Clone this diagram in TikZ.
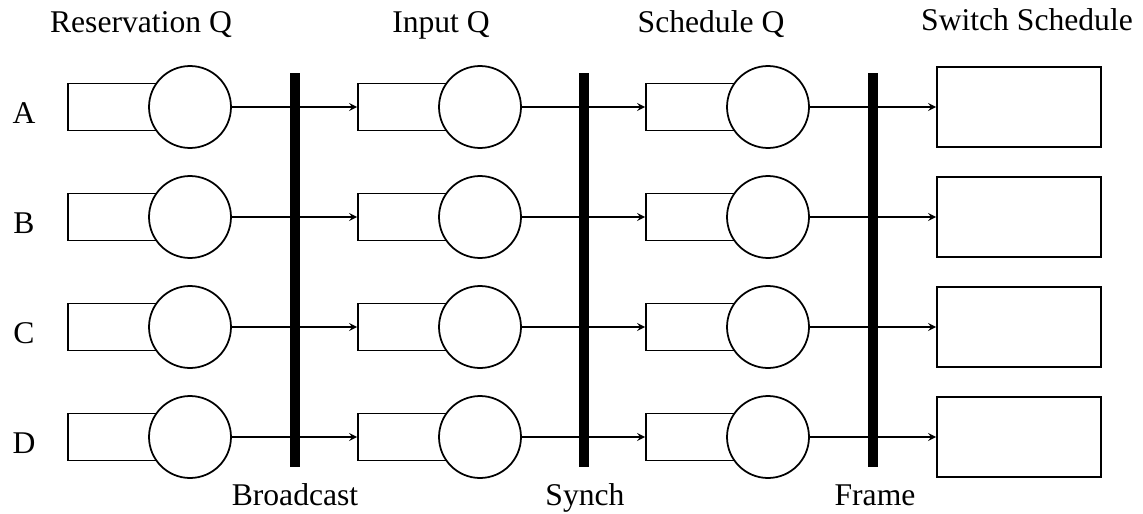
\documentclass[tikz,border=0pt]{standalone}
\usepackage{fontspec}
\setmainfont{Liberation Serif}
\usetikzlibrary{arrows}
\tikzset{
	queue/.style={draw, rectangle, minimum width=2.24cm, minimum height=0.94cm, inner sep=0pt},
	server/.style={draw, circle, fill=white, minimum size=1.64cm, inner sep=0pt},
	sched/.style={draw, rectangle, minimum width=3.28cm, minimum height=1.6cm, inner sep=0pt},
	bar/.style={fill=black, rectangle, minimum width=0.2cm, minimum height=7.9cm, inner sep=0pt},
	lbl/.style={anchor=base, font=\fontsize{18}{21}\selectfont}
}

\begin{document}
\begin{tikzpicture}[x=0.02cm, y=-0.02cm, line width=1pt]
\useasboundingbox (0,0) rectangle (1143,514);

\node[lbl] (tRes) at (141,32) {Reservation Q};
\node[lbl] (tIn) at (441,32) {Input Q};
\node[lbl] (tSch) at (711,32) {Schedule Q};
\node[lbl] (tSw) at (1027,30) {Switch Schedule};

\foreach \r/\y in {A/107, B/217, C/327, D/437} {
	\node[lbl] (row\r) at (24,\y+16) {\r};
	\foreach \s/\x in {1/190, 2/480, 3/768} {
		\node[queue] (q\s\r) at (\x-66,\y) {};
		\node[server] (c\s\r) at (\x,\y) {};
	}
	\node[sched] (sw\r) at (1019,\y) {};
	\draw[->, >=stealth] (c1\r) -- (q2\r);
	\draw[->, >=stealth] (c2\r) -- (q3\r);
	\draw[->, >=stealth] (c3\r) -- (sw\r);
}

\node[bar] (bar1) at (295,270) {};
\node[bar] (bar2) at (584,270) {};
\node[bar] (bar3) at (873,270) {};

\node[lbl] (bBroad) at (295,505) {Broadcast};
\node[lbl] (bSynch) at (585,505) {Synch};
\node[lbl] (bFrame) at (875,505) {Frame};
\end{tikzpicture}
\end{document}
